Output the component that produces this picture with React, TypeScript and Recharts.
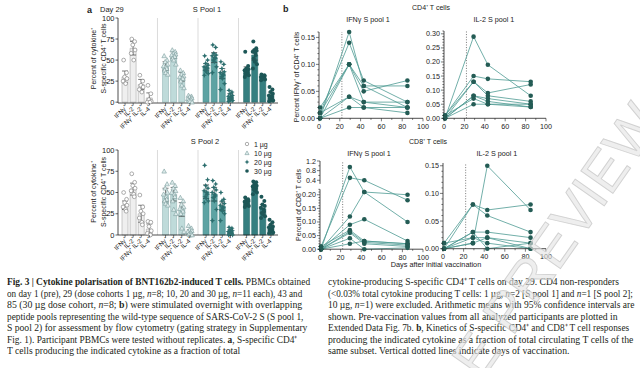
import React from "react";
import { Bar, Cell, ComposedChart, ErrorBar, Line, LineChart, ReferenceLine, XAxis, YAxis } from "recharts";

const FONT = "'Liberation Sans', Arial, Helvetica, sans-serif";
const CAP_FONT = "'Liberation Serif', 'Times New Roman', serif";
const INK = "#222";

// ---- panel a ----
const cytokines = ["IFNγ⁺", "IL-2⁺", "IFNγ⁺ IL-2⁺", "IL-4⁺"];
const doses = ["1 µg", "10 µg", "20 µg", "30 µg"];
const pctTicks = [0, 25, 50, 75, 100];

const pool1Mean = [30, 64, 21, 5, 43, 56, 30, 4, 42, 53, 34, 7, 37, 56, 30, 8];
const pool1Ci = [7, 8, 6, 6, 5, 4, 5, 2, 4, 6, 6, 3, 5, 6, 2, 4];
const pool1Points = [
  [50, 35, 30, 28, 25, 22],
  [75, 72, 68, 62, 58, 50],
  [32, 25, 20, 18, 15, 12],
  [20, 10, 3, 1, 0, 0],
  [55, 50, 48, 45, 43, 42, 40, 38, 35, 33],
  [62, 60, 58, 57, 56, 55, 54, 52, 50, 45],
  [38, 35, 33, 31, 30, 29, 28, 25, 20, 17],
  [8, 7, 6, 5, 4, 3, 3, 2, 1, 0],
  [55, 50, 46, 44, 42, 41, 40, 38, 36, 34, 32],
  [68, 65, 58, 56, 55, 53, 52, 50, 48, 42, 35],
  [48, 45, 40, 36, 35, 33, 32, 30, 28, 22, 15],
  [14, 12, 10, 8, 7, 6, 5, 4, 3, 2, 1],
  [60, 43, 40, 39, 38, 36, 35, 34, 33, 32, 30],
  [72, 64, 62, 61, 60, 58, 56, 52, 48, 45, 40],
  [33, 32, 31, 31, 30, 30, 29, 28, 28, 27, 26],
  [18, 15, 12, 10, 8, 7, 6, 5, 3, 2, 1],
];

const pool2Mean = [35, 54, 25, 7, 47, 48, 30, 4, 51, 48, 34, 4, 38, 56, 31, 9];
const pool2Ci = [5, 7, 10, 6, 8, 8, 8, 2, 8, 8, 5, 2, 3, 3, 5, 3];
const pool2Points = [
  [50, 42, 38, 35, 33, 30, 28],
  [72, 62, 58, 55, 52, 48, 45],
  [47, 33, 28, 25, 20, 15, 12],
  [16, 15, 10, 5, 2, 0, 0],
  [75, 60, 55, 50, 48, 45, 42, 40, 37, 35],
  [62, 58, 55, 52, 50, 48, 45, 40, 30, 25],
  [44, 40, 36, 33, 31, 30, 28, 25, 8, 4],
  [11, 8, 6, 5, 4, 3, 2, 1, 0, 0],
  [82, 65, 58, 55, 52, 50, 48, 45, 43, 40, 38],
  [64, 60, 56, 53, 50, 48, 46, 44, 40, 30, 17],
  [50, 42, 40, 37, 35, 33, 32, 30, 28, 25, 17],
  [9, 8, 6, 5, 4, 3, 2, 1, 1, 0, 0],
  [44, 42, 41, 40, 39, 38, 37, 36, 35, 34, 33],
  [63, 62, 60, 58, 57, 56, 55, 54, 52, 50, 48],
  [45, 40, 36, 34, 32, 30, 28, 26, 24, 22, 20],
  [18, 15, 12, 10, 9, 8, 6, 5, 4, 3, 2],
];

// ---- panel b ----
const days = [1, 29, 43, 85];
const dayTicks = [0, 10, 20, 30, 40, 50, 60, 70, 80, 90, 100];
const cd4IfngTicks = [0, 0.05, 0.1, 0.15];
const cd4Ifng = [
  [0.0, 0.16, 0.06, 0.02],
  [0.01, 0.14, 0.07, 0.03],
  [0.0, 0.1, 0.05, 0.07],
  [0.02, 0.1, 0.03, 0.02],
  [0.01, 0.04, 0.02, 0.01],
  [0.0, 0.04, 0.03, 0.03],
  [0.0, 0.02, 0.02, 0.02],
  [0.01, 0.1, 0.06, 0.06],
];
const cd4Il2Ticks = [0, 0.05, 0.1, 0.15, 0.2, 0.25, 0.3];
const cd4Il2 = [
  [0.0, 0.29, 0.19, 0.08],
  [0.01, 0.15, 0.14, 0.13],
  [0.0, 0.13, 0.09, 0.12],
  [0.01, 0.13, 0.08, 0.06],
  [0.0, 0.08, 0.07, 0.05],
  [0.0, 0.08, 0.06, 0.04],
  [0.01, 0.07, 0.05, 0.04],
  [0.0, 0.05, 0.05, 0.05],
];
const cd8IfngTicks = [0, 0.05, 0.1, 0.15, 0.2, 0.4, 0.8, 1.2];
const cd8Ifng = [
  [0.0, 0.95, 0.21, 0.2],
  [0.01, 0.5, 0.4, 0.18],
  [0.0, 0.12, 0.21, 0.1],
  [0.0, 0.09, 0.11, 0.03],
  [0.01, 0.07, 0.03, 0.02],
  [0.0, 0.065, 0.025, 0.015],
  [0.0, 0.06, 0.02, 0.01],
  [0.0, 0.04, 0.0, 0.005],
  [0.0, 0.02, 0.03, 0.02],
];
const cd8Il2Ticks = [0, 0.05, 0.1, 0.15];
const cd8Il2 = [
  [0.0, 0.01, 0.15, 0.07],
  [0.01, 0.08, 0.07, 0.08],
  [0.0, 0.08, 0.06, 0.03],
  [0.0, 0.03, 0.03, 0.02],
  [0.01, 0.02, 0.02, 0.01],
  [0.0, 0.02, 0.01, 0.0],
  [0.0, 0.03, 0.0, 0.01],
  [0.0, 0.01, 0.02, 0.0],
];

const barFill = ["#efefef", "#bfdbda", "#5da3a3", "#357f80"];
const barStroke = ["#a8a8a8", "#93b6b5", "#468a8a", "#2a6c6d"];
const LINE = "#4e9a93";
const DOT = "#245c55";

// broken y axis of the CD8 IFNγ panel
const brk = (v: number) => (v <= 0.22 ? v : 0.24 + (v - 0.25) * 0.0885);

const steps = (max: number, step: number) =>
  Array.from({ length: Math.round(max / step) + 1 }, (_, i) => +(i * step).toFixed(4));
const fmt = (v: number) => (v > 0.3 ? v.toFixed(1) : v.toFixed(2));

function buildRows(means: number[], ci: number[], points: number[][]) {
  const rows: any[] = [];
  doses.forEach((_, g) => {
    if (g > 0) rows.push({ key: `gap${g}` });
    cytokines.forEach((__, k) => {
      const i = g * 4 + k;
      const row: any = { key: `${g}-${k}`, group: g, mean: means[i], ci: ci[i] };
      points[i].forEach((v, j) => (row[`p${j}`] = v));
      rows.push(row);
    });
  });
  return rows;
}

function Marker({ g, cx, cy, s = 1 }: { g: number; cx: number; cy: number; s?: number }) {
  if (g === 0) return <circle cx={cx} cy={cy} r={1.9 * s} fill="#fff" stroke="#8a8a8a" strokeWidth={0.7} />;
  if (g === 1) {
    const r = 2.3 * s;
    return (
      <polygon
        points={`${cx},${cy - r} ${cx - r},${cy + r * 0.8} ${cx + r},${cy + r * 0.8}`}
        fill="#dcebeb"
        stroke="#7d9e9e"
        strokeWidth={0.6}
      />
    );
  }
  if (g === 2) {
    const pts: string[] = [];
    for (let i = 0; i < 8; i++) {
      const a = (Math.PI / 4) * i - Math.PI / 2;
      const rr = (i % 2 === 0 ? 2.7 : 1.2) * s;
      pts.push(`${cx + rr * Math.cos(a)},${cy + rr * Math.sin(a)}`);
    }
    return <polygon points={pts.join(" ")} fill="#2c6e6e" />;
  }
  return <circle cx={cx} cy={cy} r={2 * s} fill="#1d5757" />;
}

const jitter = [-1.4, 1.5, -0.4, 1.9, -2.0, 0.6, 1.1, -1.0, 0.1, 2.2, -1.8];

const pointDot = (j: number) => (props: any) => {
  const { cx, cy, payload } = props;
  if (cx == null || cy == null || payload == null || payload.group == null || payload[`p${j}`] == null)
    return <g key={`e${j}-${props.index}`} />;
  return <Marker key={`m${j}-${props.index}`} g={payload.group} cx={cx + jitter[j]} cy={cy} />;
};

const BarTick = (props: any) => {
  const { x, y, payload } = props;
  const v = String(payload.value);
  if (v.startsWith("gap")) return <g />;
  const k = Number(v.split("-")[1]);
  return (
    <g>
      <line x1={x} x2={x} y1={y} y2={y + 2.5} stroke={INK} strokeWidth={0.6} />
      <text
        transform={`translate(${x + 2.5},${y + 5}) rotate(-45)`}
        textAnchor="end"
        fontSize={6.3}
        fontFamily={FONT}
        fill={INK}
      >
        {cytokines[k]}
      </text>
    </g>
  );
};

const PctTick = (props: any) => {
  const { x, y, payload } = props;
  return (
    <g>
      <line x1={x - 2.5} x2={x} y1={y} y2={y} stroke={INK} strokeWidth={0.7} />
      <text x={x - 3.5} y={y} dy="0.35em" textAnchor="end" fontSize={7.5} fontFamily={FONT} fill={INK}>
        {payload.value}
      </text>
    </g>
  );
};

function CytokineBars({ means, ci, points, left, top }: any) {
  const rows = buildRows(means, ci, points);
  const nPts = Math.max(...points.map((p: number[]) => p.length));
  return (
    <div style={{ position: "absolute", left, top }}>
      <ComposedChart width={192} height={128} data={rows} margin={{ top: 5, right: 2, bottom: 0, left: 0 }}>
        <XAxis
          dataKey="key"
          type="category"
          interval={0}
          height={38}
          padding={{ left: 3, right: 3 }}
          tick={<BarTick />}
          tickLine={false}
          tickSize={0}
          tickMargin={0}
          axisLine={{ stroke: INK, strokeWidth: 0.8 }}
        />
        <YAxis
          type="number"
          domain={[0, 100]}
          ticks={pctTicks}
          interval={0}
          width={30}
          tick={<PctTick />}
          tickLine={false}
          tickSize={0}
          tickMargin={0}
          axisLine={{ stroke: INK, strokeWidth: 0.8 }}
        />
        {["gap1", "gap2", "gap3"].map((k) => (
          <ReferenceLine key={k} x={k} stroke="#d2d2d2" strokeWidth={0.8} />
        ))}
        <Bar dataKey="mean" barSize={6} isAnimationActive={false}>
          {rows.map((r, i) => (
            <Cell
              key={i}
              fill={r.group == null ? "none" : barFill[r.group]}
              stroke={r.group == null ? "none" : barStroke[r.group]}
              strokeWidth={0.6}
            />
          ))}
          <ErrorBar dataKey="ci" width={3} stroke={INK} strokeWidth={0.6} direction="y" />
        </Bar>
        {Array.from({ length: nPts }, (_, j) => (
          <Line
            key={j}
            dataKey={`p${j}`}
            stroke="none"
            dot={pointDot(j)}
            activeDot={false}
            isAnimationActive={false}
            legendType="none"
          />
        ))}
      </ComposedChart>
    </div>
  );
}

const DayTick = (props: any) => {
  const { x, y, payload } = props;
  const major = payload.value % 20 === 0;
  return (
    <g>
      <line x1={x} x2={x} y1={y} y2={y + (major ? 3 : 1.6)} stroke={INK} strokeWidth={0.6} />
      {major && (
        <text x={x} y={y + 10.5} textAnchor="middle" fontSize={7.2} fontFamily={FONT} fill={INK}>
          {payload.value}
        </text>
      )}
    </g>
  );
};

const yTick = (majorPos: number[], majorLab: string[]) => (props: any) => {
  const { x, y, payload } = props;
  const k = majorPos.findIndex((m) => Math.abs(m - payload.value) < 1e-6);
  const len = k >= 0 ? 3 : 1.6;
  return (
    <g>
      <line x1={x - len} x2={x} y1={y} y2={y} stroke={INK} strokeWidth={0.6} />
      {k >= 0 && (
        <text x={x - 4} y={y} dy="0.35em" textAnchor="end" fontSize={7.2} fontFamily={FONT} fill={INK}>
          {majorLab[k]}
        </text>
      )}
    </g>
  );
};

function Kinetics({ series, map, ticks, majors, domain, left, top, plotW, plotH, segments }: any) {
  const f = map || ((v: number) => v);
  const rows = days.map((d, i) => {
    const r: any = { day: d };
    series.forEach((s: number[], j: number) => (r[`p${j}`] = s[i] == null ? null : f(s[i])));
    return r;
  });
  const tickFn = yTick(
    majors.map(f),
    majors.map((m: number) => fmt(m))
  );
  return (
    <div style={{ position: "absolute", left, top }}>
      <LineChart width={26 + plotW + 10} height={4 + plotH + 16} data={rows} margin={{ top: 4, right: 10, bottom: 0, left: 0 }}>
        <XAxis
          type="number"
          dataKey="day"
          domain={[0, 100]}
          ticks={dayTicks}
          interval={0}
          height={16}
          tick={<DayTick />}
          tickLine={false}
          tickSize={0}
          tickMargin={0}
          axisLine={{ stroke: INK, strokeWidth: 0.8 }}
        />
        <YAxis
          type="number"
          domain={domain}
          ticks={ticks.map(f)}
          interval={0}
          width={26}
          tick={tickFn}
          tickLine={false}
          tickSize={0}
          tickMargin={0}
          axisLine={segments ? false : { stroke: INK, strokeWidth: 0.8 }}
        />
        <ReferenceLine x={22} stroke="#555" strokeDasharray="1 1.6" strokeWidth={0.8} />
        {segments &&
          segments.map((sg: number[], k: number) => (
            <ReferenceLine
              key={k}
              segment={[
                { x: 0, y: sg[0] },
                { x: 0, y: sg[1] },
              ]}
              stroke={INK}
              strokeWidth={0.8}
            />
          ))}
        {series.map((_: any, j: number) => (
          <Line
            key={j}
            type="linear"
            dataKey={`p${j}`}
            stroke={LINE}
            strokeWidth={0.8}
            dot={{ r: 2.3, fill: DOT, stroke: "none" }}
            activeDot={false}
            isAnimationActive={false}
            connectNulls
          />
        ))}
      </LineChart>
    </div>
  );
}

type Seg = [string, string];
const captionLeft: Seg[][] = [
  [["Fig. 3 | Cytokine polarisation of BNT162b2-induced T cells.", "b"], [" PBMCs obtained", ""]],
  [["on day 1 (pre), 29 (dose cohorts 1 µg, ", ""], ["n", "i"], ["=8; 10, 20 and 30 µg, ", ""], ["n", "i"], ["=11 each), 43 and", ""]],
  [["85 (30 µg dose cohort, ", ""], ["n", "i"], ["=8; ", ""], ["b", "b"], [") were stimulated overnight with overlapping", ""]],
  [["peptide pools representing the wild-type sequence of SARS-CoV-2 S (S pool 1,", ""]],
  [["S pool 2) for assessment by flow cytometry (gating strategy in Supplementary", ""]],
  [["Fig. 1). Participant PBMCs were tested without replicates. ", ""], ["a", "b"], [", S-specific CD4⁺", ""]],
  [["T cells producing the indicated cytokine as a fraction of total", ""]],
];
const captionRight: Seg[][] = [
  [["cytokine-producing S-specific CD4⁺ T cells on day 29. CD4 non-responders", ""]],
  [["(<0.03% total cytokine producing T cells: 1 µg, ", ""], ["n", "i"], ["=2 [S pool 1] and ", ""], ["n", "i"], ["=1 [S pool 2];", ""]],
  [["10 µg, ", ""], ["n", "i"], ["=1) were excluded. Arithmetic means with 95% confidence intervals are", ""]],
  [["shown. Pre-vaccination values from all analyzed participants are plotted in", ""]],
  [["Extended Data Fig. 7b. ", ""], ["b", "b"], [", Kinetics of S-specific CD4⁺ and CD8⁺ T cell responses", ""]],
  [["producing the indicated cytokine as a fraction of total circulating T cells of the", ""]],
  [["same subset. Vertical dotted lines indicate days of vaccination.", ""]],
];
const leftWidths = [303.5, 295, 295, 296.5, 300, 290, 233];
const rightWidths = [290.7, 304.7, 306.7, 289.7, 300.7, 305.7, 241.7];

// one caption line, squeezed horizontally to the width it has in the print
function CapLine({ segs, x, y, w }: { segs: Seg[]; x: number; y: number; w: number }) {
  const ref = React.useRef<HTMLDivElement>(null);
  const [sx, setSx] = React.useState(1);
  React.useLayoutEffect(() => {
    if (ref.current && ref.current.offsetWidth > 0) setSx(w / ref.current.offsetWidth);
  }, [w]);
  return (
    <div
      ref={ref}
      style={{
        position: "absolute",
        left: x,
        top: y,
        whiteSpace: "pre",
        fontSize: 10,
        lineHeight: "11px",
        fontFamily: CAP_FONT,
        color: "#231f20",
        transform: `scaleX(${sx})`,
        transformOrigin: "0 0",
      }}
    >
      {segs.map(([t, s], k) => (
        <span key={k} style={{ fontWeight: s === "b" ? 700 : 400, fontStyle: s === "i" ? "italic" : "normal" }}>
          {t}
        </span>
      ))}
    </div>
  );
}

function Caption() {
  return (
    <>
      {captionLeft.map((segs, i) => (
        <CapLine key={`l${i}`} segs={segs} x={6.7} y={276 + i * 11.55} w={leftWidths[i]} />
      ))}
      {captionRight.map((segs, i) => (
        <CapLine key={`r${i}`} segs={segs} x={328.3} y={276 + i * 11.55} w={rightWidths[i]} />
      ))}
    </>
  );
}

function Overlay() {
  const t = { fontFamily: FONT, fill: INK };
  return (
    <svg width={640} height={368} style={{ position: "absolute", left: 0, top: 0 }}>
      <text x={87} y={12.5} fontSize={9} fontWeight={700} {...t}>a</text>
      <text x={100} y={12} fontSize={7.5} {...t}>Day 29</text>
      <text x={207} y={12} fontSize={7.5} textAnchor="middle" {...t}>S Pool 1</text>
      <text x={205} y={144} fontSize={7.5} textAnchor="middle" {...t}>S Pool 2</text>
      {[58.5, 192].map((cy) => (
        <g key={cy}>
          <text transform={`translate(96,${cy}) rotate(-90)`} fontSize={7} textAnchor="middle" {...t}>Percent of cytokine⁺</text>
          <text transform={`translate(105.5,${cy}) rotate(-90)`} fontSize={7} textAnchor="middle" {...t}>S-specific CD4⁺ T cells</text>
        </g>
      ))}
      {doses.map((d, g) => (
        <g key={d}>
          <Marker g={g} cx={247} cy={144 + g * 9} s={0.9} />
          <text x={254} y={146.5 + g * 9} fontSize={7} {...t}>{d}</text>
        </g>
      ))}

      <text x={283} y={12} fontSize={9} fontWeight={700} {...t}>b</text>
      <text x={431} y={10} fontSize={7} textAnchor="middle" {...t}>CD4⁺ T cells</text>
      <text x={368} y={21.5} fontSize={7.2} textAnchor="middle" {...t}>IFNγ S pool 1</text>
      <text x={494} y={21.5} fontSize={7.2} textAnchor="middle" {...t}>IL-2 S pool 1</text>
      <text x={428} y={144} fontSize={7} textAnchor="middle" {...t}>CD8⁺ T cells</text>
      <text x={369} y={156} fontSize={7.2} textAnchor="middle" {...t}>IFNγ S pool 1</text>
      <text x={497} y={156} fontSize={7.2} textAnchor="middle" {...t}>IL-2 S pool 1</text>
      <text transform="translate(299,77) rotate(-90)" fontSize={7} textAnchor="middle" {...t}>Percent IFNγ⁺ of CD4⁺ T cells</text>
      <text transform="translate(301,205) rotate(-90)" fontSize={7} textAnchor="middle" {...t}>Percent of CD8⁺ T cells</text>
      <text x={436} y={267} fontSize={7.3} textAnchor="middle" {...t}>Days after initial vaccination</text>
    </svg>
  );
}

export default function App() {
  return (
    <div
      style={{
        position: "absolute",
        left: 0,
        top: 0,
        width: 640,
        height: 368,
        background: "#fff",
        overflow: "hidden",
        fontFamily: FONT,
      }}
    >
      <CytokineBars means={pool1Mean} ci={pool1Ci} points={pool1Points} left={88} top={13.3} />
      <CytokineBars means={pool2Mean} ci={pool2Ci} points={pool2Points} left={88} top={144.5} />

      <Kinetics series={cd4Ifng} ticks={steps(0.16, 0.01)} majors={cd4IfngTicks} domain={[0, 0.16]} left={293} top={27.7} plotW={104} plotH={86.3} />
      <Kinetics series={cd4Il2} ticks={steps(0.31, 0.01)} majors={cd4Il2Ticks} domain={[0, 0.31]} left={418} top={26.7} plotW={102} plotH={87.3} />
      <Kinetics
        series={cd8Ifng}
        map={brk}
        ticks={[...steps(0.22, 0.01), 0.4, 0.6, 0.8, 1.0, 1.2]}
        majors={cd8IfngTicks}
        domain={[0, brk(1.2)]}
        segments={[
          [0, brk(0.22)],
          [brk(0.25), brk(1.2)],
        ]}
        left={294}
        top={156.8}
        plotW={103}
        plotH={88.2}
      />
      <Kinetics series={cd8Il2} ticks={steps(0.15, 0.01)} majors={cd8Il2Ticks} domain={[0, 0.155]} left={417} top={159.3} plotW={103} plotH={85.7} />

      <Overlay />
      <Caption />

      <svg width={640} height={368} style={{ position: "absolute", left: 0, top: 0, pointerEvents: "none" }}>
        <text
          transform="translate(663,122) rotate(-55)"
          textAnchor="end"
          fontSize={57}
          fontFamily={FONT}
          fill="#e2e2e2"
          fillOpacity={0.6}
          stroke="#c2c2c2"
          strokeOpacity={0.7}
          strokeWidth={0.9}
        >
          ACCELERATED ARTICLE PREVIEW
        </text>
      </svg>
    </div>
  );
}
